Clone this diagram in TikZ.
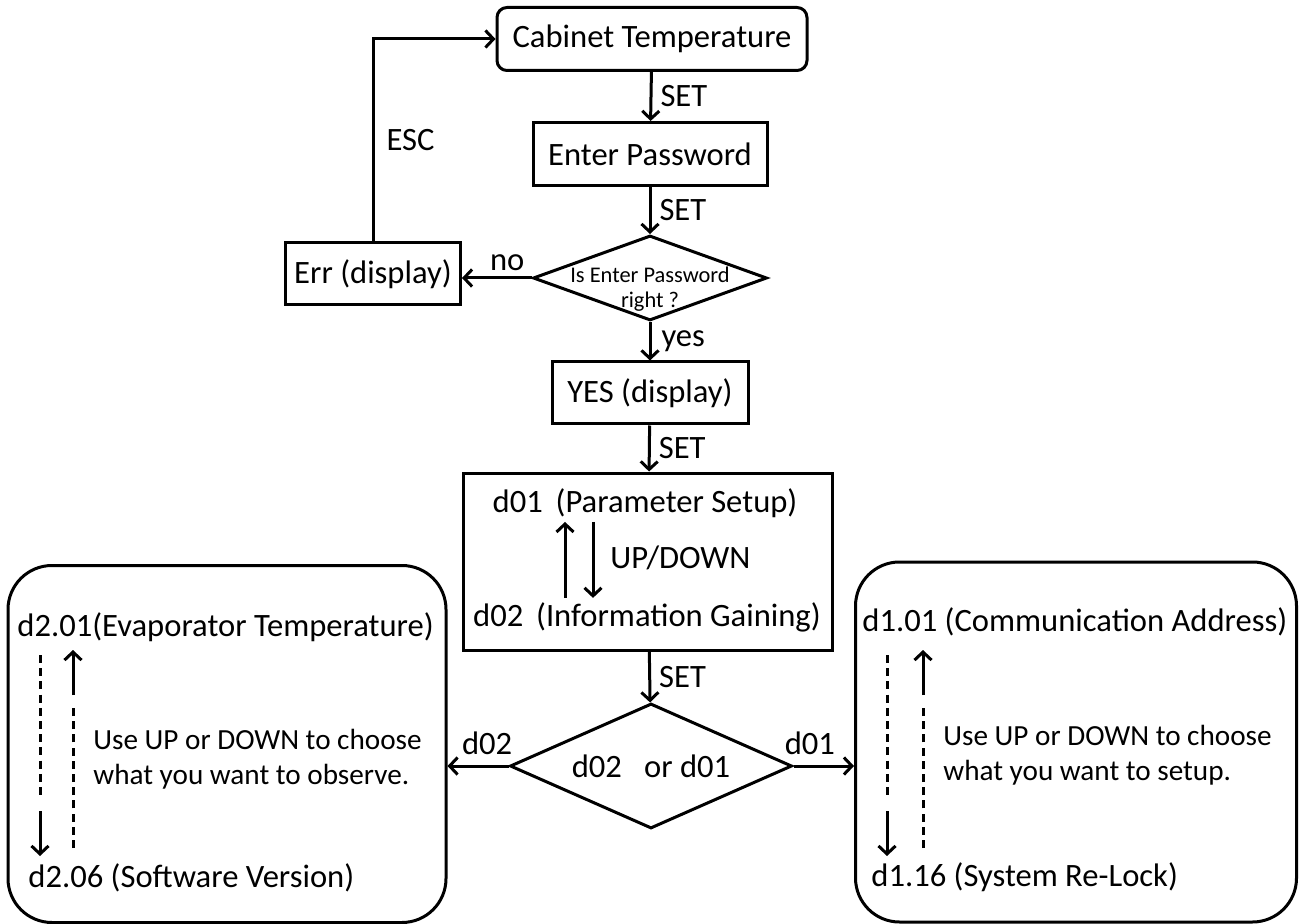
\documentclass[tikz,border=0pt]{standalone}
\usepackage{fontspec}
\setmainfont{Carlito}
\usetikzlibrary{arrows.meta,shapes.geometric}
\tikzset{
  % Step of the menu: plain box with a heavy border.
  mnu/box/.style={
    draw=black, fill=white, line width=1.5pt, inner sep=2pt, align=center,
    font=\fontsize{16.3}{19}\selectfont, text=black
  },
  % The start screen, corners just rounded.
  mnu/start/.style={mnu/box, rounded corners=5pt},
  % Decision.
  mnu/gate/.style={
    draw=black, line width=1.5pt, diamond, aspect=2.25, inner sep=0pt,
    font=\fontsize{16.3}{19}\selectfont
  },
  % Group of parameters, big round corners.
  mnu/group/.style={draw=black, line width=1.5pt, rounded corners=22pt},
  % Arrows: open barb tips.
  mnu/arrow/.style={
    -{Straight Barb[length=4pt,width=8.5pt]}, line width=1.5pt, draw=black
  },
  mnu/dash/.style={line width=1.5pt, dash pattern=on 4pt off 2.6pt},
  % Labels on the arrows and the texts in the groups.
  mnu/label/.style={font=\fontsize{16.3}{19}\selectfont, inner sep=2pt, text=black},
}

\begin{document}
\begin{tikzpicture}[x=0.5pt,y=-0.5pt,
  item/.style={mnu/label, anchor=west, inner sep=0pt},
  note/.style={mnu/label, anchor=west, align=left, inner sep=0pt,
               font=\fontsize{14.6}{17.5}\selectfont}]
  \useasboundingbox (0,0) rectangle (1299,924);
  % main column
  \node[mnu/start, minimum width=155pt, minimum height=31.5pt] (cab) at (652,39) {Cabinet Temperature};
  \node[mnu/box, minimum width=117pt, minimum height=31.5pt] (pwd) at (650,154) {Enter Password};
  \node[mnu/gate, minimum width=117pt, minimum height=42.5pt] (chk) at (650,278) {};
  \node[mnu/label, font=\fontsize{11.2}{12.5}\selectfont, align=center] (chktxt) at (650,289) {Is Enter Password\\right ?};
  \node[mnu/box, minimum width=87.5pt, minimum height=31pt] (err) at (373,274) {Err (display)};
  \node[mnu/box, minimum width=98pt, minimum height=31pt] (yes) at (650,393) {YES (display)};
  \node[mnu/box, minimum width=184.5pt, minimum height=88.5pt] (sel) at (648,561.5) {};
  \node[mnu/label] (p1) at (645,503) {d01\, (Parameter Setup)};
  \node[mnu/label] (p2) at (647,617) {d02\, (Information Gaining)};
  \node[mnu/label, anchor=west] (ud) at (606,558) {UP/DOWN};
  \node[mnu/gate, minimum width=141pt, minimum height=62.5pt] (which) at (651,766) {d02~ ~or d01};
  % parameter groups
  \node[mnu/group, minimum width=219pt, minimum height=178.5pt] (obs) at (227,744) {};
  \node[mnu/group, minimum width=220.5pt, minimum height=180pt] (set) at (1076,742) {};
  \node[item] (e1) at (17,627) {d2.01(Evaporator Temperature)};
  \node[item] (e2) at (28,878) {d2.06 (Software Version)};
  \node[note] (eh) at (93,759) {Use UP or DOWN to choose\\what you want to observe.};
  \node[item] (s1) at (862,622) {d1.01 (Communication Address)};
  \node[item] (s2) at (871,877) {d1.16 (System Re-Lock)};
  \node[note] (sh) at (943,755) {Use UP or DOWN to choose\\what you want to setup.};
  \coordinate (upx) at (565,0);
  \coordinate (dnx) at (593,0);

  \draw[mnu/arrow] (cab) -- node[mnu/label, right, xshift=2pt]{SET} (pwd);
  \draw[mnu/arrow] (pwd) -- node[mnu/label, right, xshift=2pt]{SET} (chk);
  \draw[mnu/arrow] (chk.west) -- node[mnu/label, pos=0.35, above, yshift=1pt]{no} (err.east |- chk.west);
  \draw[mnu/arrow] (err.north) |- node[mnu/label, pos=0.25, right, xshift=4pt]{ESC} (cab.west);
  \draw[mnu/arrow] (chk.south) -- node[mnu/label, right, xshift=3pt, yshift=0pt]{yes} (yes);
  \draw[mnu/arrow] (yes) -- node[mnu/label, right, xshift=2pt]{SET} (sel);
  \draw[mnu/arrow] (p2.north -| upx) -- (p1.south -| upx);
  \draw[mnu/arrow] (p1.south -| dnx) -- (p2.north -| dnx);
  \draw[mnu/arrow] (sel) -- node[mnu/label, right, xshift=2pt]{SET} (which);
  \draw[mnu/arrow] (which.west) -- node[mnu/label, pos=0.35, above, yshift=3pt]{d02} (obs.east |- which.west);
  \draw[mnu/arrow] (which.east) -- node[mnu/label, pos=0.27, above, yshift=3pt]{d01} (set.west |- which.east);
  % scroll arrows inside both groups
  \foreach \dx/\ux in {40/73, 887/923} {
    \draw[mnu/dash] (\dx,655) -- (\dx,798);
    \draw[mnu/arrow] (\dx,811) -- (\dx,856);
    \draw[mnu/dash] (\ux,848) -- (\ux,706);
    \draw[mnu/arrow] (\ux,695) -- (\ux,650);
  }
\end{tikzpicture}
\end{document}
